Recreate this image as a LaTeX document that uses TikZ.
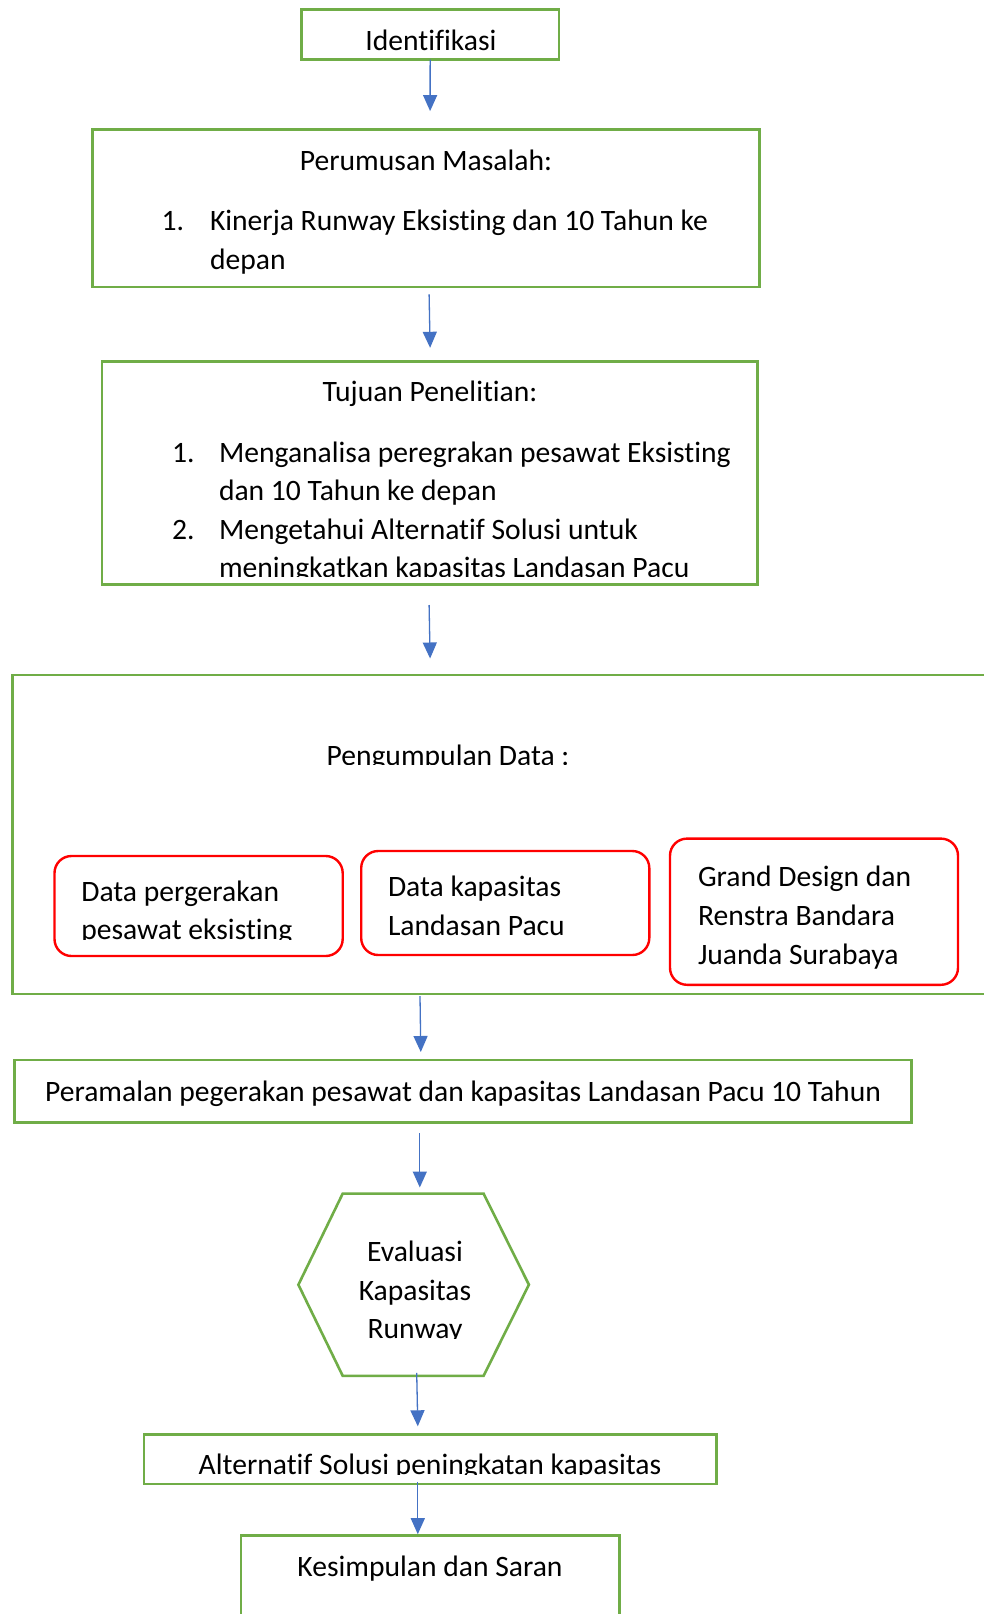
\documentclass[tikz,border=0pt]{standalone}
\usepackage{fontspec}
\setmainfont{Carlito}[Ligatures={NoCommon}]
\usetikzlibrary{arrows.meta}
\definecolor{gr}{HTML}{70AD47}
\definecolor{rd}{HTML}{FF0000}
\definecolor{bl}{HTML}{4472C4}
\tikzset{
  gbox/.style={draw=gr, line width=2.6pt, rectangle, inner sep=0pt, outer sep=0pt},
  rbox/.style={draw=rd, line width=2.4pt, rectangle, rounded corners=17pt, inner sep=0pt, outer sep=0pt},
  txt/.style={inner sep=0pt, outer sep=0pt, font=\fontsize{29.6}{38.7}\selectfont},
  arr/.style={draw=bl, line width=1.3pt, -{Triangle[width=14pt,length=16pt]}},
}
\begin{document}
\begin{tikzpicture}[x=1pt, y=-1pt]
\clip (0,0) rectangle (984,1614);
\fill[white] (0,0) rectangle (984,1614);

% boxes
\node[gbox, minimum width=257.3pt, minimum height=50.4pt] (ident) at (430.15,34.5) {};
\node[gbox, minimum width=666.8pt, minimum height=157.4pt] (perum) at (426,208.4) {};
\node[gbox, minimum width=655.5pt, minimum height=223.3pt] (tujuan) at (429.65,472.85) {};
\node[gbox, minimum width=987.7pt, minimum height=319pt] (peng) at (506.15,834.5) {};
\node[rbox, minimum width=288.2pt, minimum height=100pt] (d1) at (198.6,906) {};
\node[rbox, minimum width=288.1pt, minimum height=104pt] (d2) at (505.25,903) {};
\node[rbox, minimum width=288pt, minimum height=146.2pt] (d3) at (814,911.7) {};
\node[gbox, minimum width=897.3pt, minimum height=62.8pt] (peram) at (463.05,1091.3) {};
\draw[draw=gr, line width=2.6pt, line join=miter] (298.4,1284.7) -- (342.7,1193.6) -- (483.6,1193.6) -- (528.9,1284.7) -- (483.6,1375.8) -- (342.7,1375.8) -- cycle;
\node[inner sep=0pt, minimum width=230pt, minimum height=182pt] (hex) at (413.65,1284.7) {};
\node[gbox, minimum width=572.2pt, minimum height=49.4pt] (alt) at (430.1,1459.1) {};
\node[gbox, minimum width=378.7pt, minimum height=104.7pt] (kes) at (430.15,1587.65) {};

% texts
\node[txt, anchor=base] (tident) at (431,50) {Identifikasi};

\node[txt, anchor=base] (tperum) at (426,170.2) {Perumusan Masalah:};
\node[txt, anchor=base west] (pn1) at (161.5,230) {1.};
\node[txt, anchor=base west] (pl1) at (210,230) {Kinerja Runway Eksisting dan 10 Tahun ke};
\node[txt, anchor=base west] (pl2) at (210,269) {depan};

\node[txt, anchor=base] (ttuj) at (430,401.8) {Tujuan Penelitian:};
\node[txt, anchor=base west] (tn1) at (172,462.5) {1.};
\node[txt, anchor=base west] (tl1) at (219,462.5) {Menganalisa peregrakan pesawat Eksisting};
\node[txt, anchor=base west] (tl2) at (219,500.6) {dan 10 Tahun ke depan};
\node[txt, anchor=base west] (tn2) at (172,539.7) {2.};
\node[txt, anchor=base west] (tl3) at (219,539.7) {Mengetahui Alternatif Solusi untuk};
\begin{scope}
\clip (150,545) rectangle (800,576);
\node[txt, anchor=base west] (tl4) at (219,577.7) {meningkatkan kapasitas Landasan Pacu};
\end{scope}

\begin{scope}
\clip (100,720) rectangle (800,764.5);
\node[txt, anchor=base] (tpeng) at (448,765) {Pengumpulan Data :};
\end{scope}

\node[txt, anchor=base west] (d1a) at (81.3,901.9) {Data pergerakan};
\begin{scope}
\clip (60,908) rectangle (340,939.5);
\node[txt, anchor=base west] (d1b) at (81.3,939.9) {pesawat eksisting};
\end{scope}
\node[txt, anchor=base west] (d2a) at (388,896.7) {Data kapasitas};
\node[txt, anchor=base west] (d2b) at (388,935.8) {Landasan Pacu};
\node[txt, anchor=base west] (d3a) at (698,886.4) {Grand Design dan};
\node[txt, anchor=base west] (d3b) at (698,925.5) {Renstra Bandara};
\node[txt, anchor=base west] (d3c) at (698,964.6) {Juanda Surabaya};

\node[txt, anchor=base] (tperam) at (463,1101.5) {Peramalan pegerakan pesawat dan kapasitas Landasan Pacu 10 Tahun};

\node[txt, anchor=base] (h1) at (415,1261) {Evaluasi};
\node[txt, anchor=base] (h2) at (415,1300) {Kapasitas};
\begin{scope}
\clip (330,1308) rectangle (500,1338.5);
\node[txt, anchor=base] (h3) at (415,1338) {Runway};
\end{scope}

\begin{scope}
\clip (150,1440) rectangle (710,1474);
\node[txt, anchor=base] (talt) at (430,1474) {Alternatif Solusi peningkatan kapasitas};
\end{scope}

\node[txt, anchor=base] (tkes) at (430,1576) {Kesimpulan dan Saran};

% arrow ends
\coordinate (e1) at (430.1,111.1);
\coordinate (s2) at (429.1,294.3);
\coordinate (e2) at (430.1,347.8);
\coordinate (s3) at (429.1,605);
\coordinate (e3) at (430.1,658.5);
\coordinate (s4) at (420,996);
\coordinate (e4) at (420.8,1052);
\coordinate (s5) at (419.8,1133);
\coordinate (e5) at (419.8,1187.5);
\coordinate (s6) at (416.7,1372.8);
\coordinate (e6) at (417.8,1426.3);
\coordinate (s7) at (417.8,1481.8);
\coordinate (e7) at (417.8,1534.2);

\draw[arr] (ident.south) -- (e1);
\draw[arr] (s2) -- (e2);
\draw[arr] (s3) -- (e3);
\draw[arr] (s4) -- (e4);
\draw[arr] (s5) -- (e5);
\draw[arr] (s6) -- (e6);
\draw[arr] (s7) -- (e7);
\end{tikzpicture}
\end{document}
